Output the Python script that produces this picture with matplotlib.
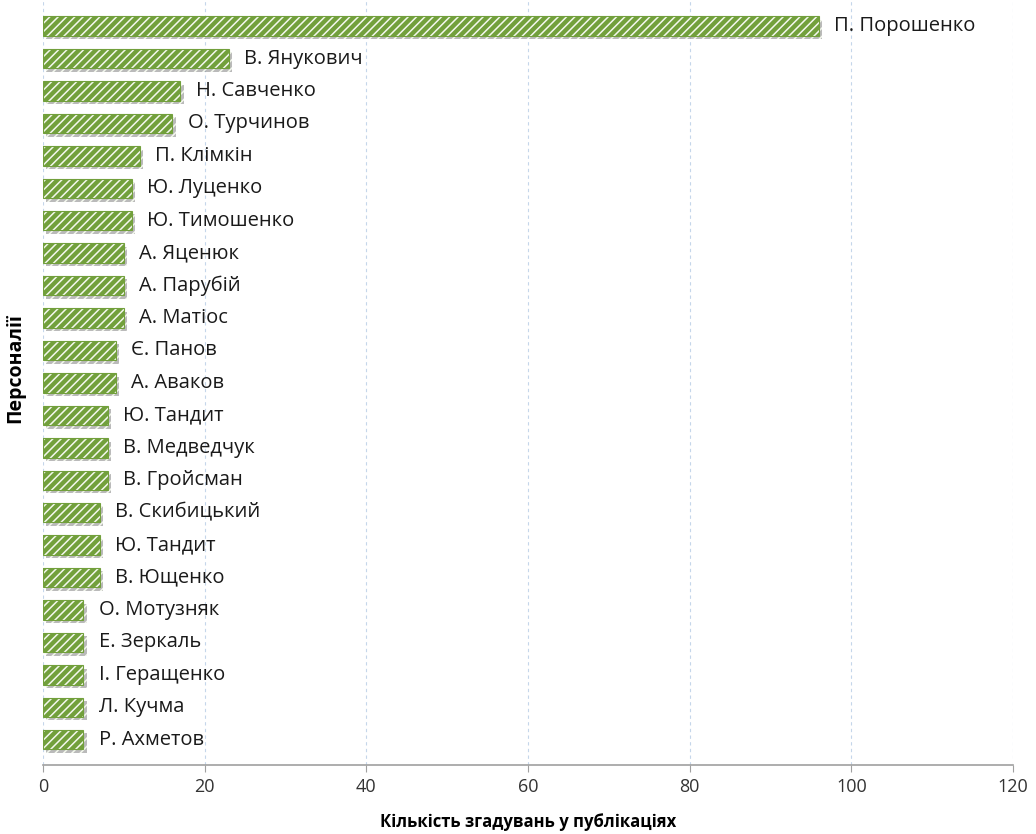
import matplotlib
matplotlib.use("Agg")
import matplotlib.pyplot as plt
import matplotlib.patheffects as pe

names = [
    "П. Порошенко", "В. Янукович", "Н. Савченко", "О. Турчинов", "П. Клімкін",
    "Ю. Луценко", "Ю. Тимошенко", "А. Яценюк", "А. Парубій", "А. Матіос",
    "Є. Панов", "А. Аваков", "Ю. Тандит", "В. Медведчук", "В. Гройсман",
    "В. Скибицький", "Ю. Тандит", "В. Ющенко", "О. Мотузняк", "Е. Зеркаль",
    "І. Геращенко", "Л. Кучма", "Р. Ахметов",
]
mentions = [96, 23, 17, 16, 12, 11, 11, 10, 10, 10, 9, 9, 8, 8, 8, 7, 7, 7, 5, 5, 5, 5, 5]
x_ticks = [0, 20, 40, 60, 80, 100, 120]

plt.rcParams["font.family"] = ["Open Sans", "DejaVu Sans"]
plt.rcParams["hatch.linewidth"] = 1.1

fig = plt.figure(figsize=(10.36, 8.34), dpi=100)
ax = fig.add_axes([0.0415, 0.0827, 0.9363, 0.9163])

green = "#72a03c"
ypos = list(range(len(names)))
bars = ax.barh(ypos, mentions, height=0.6, color=green, edgecolor="#f4f8ee",
               linewidth=0, hatch="////", zorder=3)
for b in bars:
    b.set_path_effects([pe.SimplePatchShadow(offset=(2.5, -2.5), shadow_rgbFace="#8c8c8c", alpha=0.6),
                        pe.Normal()])
# thin outline around each bar
ax.barh(ypos, mentions, height=0.6, facecolor="none", edgecolor=green, linewidth=0.8, zorder=4)

for y, v, n in zip(ypos, mentions, names):
    ax.annotate(n, xy=(v, y), xytext=(11, 0), textcoords="offset points",
                va="center", ha="left", fontsize=14.5, color="#1a1a1a", zorder=5)

ax.set_ylim(len(names) - 1 + 0.78, -0.78)
ax.set_xlim(0, 120)
ax.set_xticks(x_ticks)
ax.set_yticks([])
ax.tick_params(axis="x", length=5, color="#a0a0a0", labelsize=13, labelcolor="#333333", pad=4)
ax.grid(axis="x", linestyle=(0, (3, 3)), color="#c5d6ea", linewidth=0.8, zorder=0)
for s in ["top", "right", "left"]:
    ax.spines[s].set_visible(False)
ax.spines["bottom"].set_color("#a0a0a0")
ax.spines["bottom"].set_linewidth(1.2)

fig.text(0.5097, 1 - 822 / 834, "Кількість згадувань у публікаціях",
         fontsize=12, fontweight="bold", va="center", ha="center")
fig.text(0.0145, 1 - 368 / 834, "Персоналії", rotation=90, fontsize=14, fontweight="bold",
         va="center", ha="center")

fig.savefig("out.png", dpi=100)
